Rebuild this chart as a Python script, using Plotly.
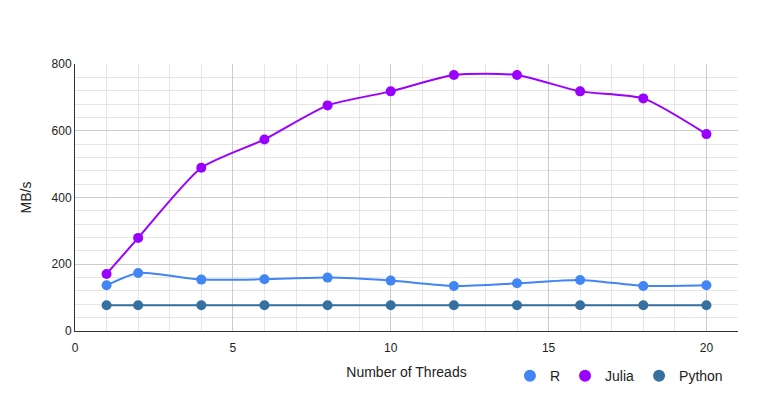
import plotly.graph_objects as go

threads = [1, 2, 4, 6, 8, 10, 12, 14, 16, 18, 20]
r_vals = [137, 174, 154, 155, 160, 151, 135, 143, 153, 135, 137]
julia_vals = [171, 279, 489, 574, 676, 718, 767, 767, 718, 697, 590]
python_vals = [77, 77, 77, 77, 77, 77, 77, 77, 77, 77, 77]

series = [("R", r_vals, "#4285F4"), ("Julia", julia_vals, "#9900FF"), ("Python", python_vals, "#37709F")]

fig = go.Figure()
for name, vals, color in series:
    fig.add_trace(go.Scatter(
        x=threads, y=vals, name=name, mode="lines+markers", showlegend=False,
        line=dict(color=color, width=2, shape="spline", smoothing=0.6),
        marker=dict(color=color, size=10),
    ))
for name, vals, color in series:
    fig.add_trace(go.Scatter(
        x=[None], y=[None], name=name, mode="markers", showlegend=True,
        marker=dict(color=color, size=12),
    ))

fig.update_layout(
    width=762, height=415,
    paper_bgcolor="white", plot_bgcolor="white",
    margin=dict(l=67, r=32, t=56, b=92, autoexpand=False),
    font=dict(family="Arial, Liberation Sans, sans-serif", size=12, color="#222"),
    showlegend=True,
    legend=dict(orientation="h", x=0.656, y=-0.169, xanchor="left", yanchor="middle",
                font=dict(size=14, color="#222"), itemsizing="trace"),
    xaxis=dict(range=[0, 21], tickvals=[0, 5, 10, 15, 20], showgrid=True,
               gridcolor="#CCCCCC", gridwidth=1,
               minor=dict(dtick=1, showgrid=True, gridcolor="#E6E6E6"),
               showline=True, linecolor="#333333", linewidth=1, zeroline=False,
               ticks="outside", ticklen=6, tickcolor="rgba(0,0,0,0)",
               tickfont=dict(size=12, color="#222"), automargin=False,
               title=dict(text="Number of Threads", font=dict(size=14, color="#222"), standoff=12)),
    yaxis=dict(range=[0, 800], tickvals=[0, 200, 400, 600, 800], showgrid=True,
               gridcolor="#CCCCCC", gridwidth=1,
               minor=dict(dtick=40, showgrid=True, gridcolor="#E6E6E6"),
               showline=True, linecolor="#333333", linewidth=1, zeroline=False,
               ticks="", tickfont=dict(size=12, color="#222"), automargin=False,
               title=dict(text="MB/s", font=dict(size=14, color="#222"), standoff=16)),
)

fig.write_html("out.html")
